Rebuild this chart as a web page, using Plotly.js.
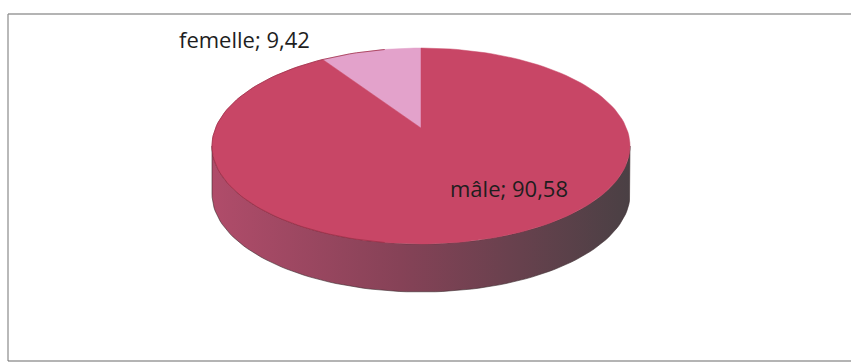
<!DOCTYPE html>
<html>
<head>
<meta charset="utf-8">
<script src="https://cdn.plot.ly/plotly-3.0.1.min.js"></script>
<style>html,body{margin:0;padding:0;background:#fff}#chart{width:851px;height:363px}</style>
</head>
<body>
<div id="chart"></div>
<script>
// ---- data ----
const labels = ['femelle', 'mâle'];
const values = [9.42, 90.58];
const topColors = ['#e3a2cb', '#c84666'];

// ---- geometry / style (pixels in a 851x363 frame) ----
const CX = 421, CY = 146, RX = 209, RY = 98, DEPTH = 48, APEX_DY = -18;
const STEPS = 180;
const sideScale = [[0, '#b04c6a'], [0.45, '#864257'], [1, '#4a4044']];

function pt(deg, dy) {
  const r = deg * Math.PI / 180;
  return [CX + RX * Math.cos(r), CY - RY * Math.sin(r) + (dy || 0)];
}
function arc(a0, a1, dy) {
  const n = Math.max(2, Math.ceil(Math.abs(a1 - a0) / 360 * STEPS));
  const xs = [], ys = [];
  for (let i = 0; i <= n; i++) {
    const p = pt(a0 + (a1 - a0) * i / n, dy);
    xs.push(p[0]); ys.push(p[1]);
  }
  return [xs, ys];
}
// perspective: slice boundaries are rays from an apex that sits behind the centre
function paramAngle(deg) {
  const py = -APEX_DY * RX / RY;
  const r = deg * Math.PI / 180, dx = Math.cos(r), dy = Math.sin(r);
  const pd = py * dy;
  const t = -pd + Math.sqrt(pd * pd + RX * RX - py * py);
  const x = t * dx, y = py + t * dy;
  let phi = Math.atan2(y, x) * 180 / Math.PI;
  phi += 360 * Math.round((deg - phi) / 360);
  return phi;
}

const total = values.reduce((a, b) => a + b, 0);
const traces = [];
let start = 90;
const slices = values.map((v, i) => {
  const a0 = start, a1 = start + v / total * 360;
  start = a1;
  return { i, a0: paramAngle(a0), a1: paramAngle(a1) };
});

// side faces (front half)
slices.forEach(s => {
  [[180, 360], [540, 720]].forEach(([f0, f1]) => {
    const lo = Math.max(s.a0, f0), hi = Math.min(s.a1, f1);
    if (hi <= lo) return;
    const [tx, ty] = arc(lo, hi, 0);
    const [bx, by] = arc(hi, lo, DEPTH);
    traces.push({
      type: 'scatter', mode: 'lines', x: tx.concat(bx, [tx[0]]), y: ty.concat(by, [ty[0]]),
      fill: 'toself', line: { width: 0.6, color: '#3a2a2e' },
      fillcolor: '#864257',
      fillgradient: { type: 'horizontal', colorscale: sideScale },
      hoverinfo: 'skip', showlegend: false
    });
  });
});

// top faces
slices.forEach(s => {
  const [ax, ay] = arc(s.a0, s.a1, 0);
  const apex = [CX, CY + APEX_DY];
  traces.push({
    type: 'scatter', mode: 'lines',
    x: [apex[0]].concat(ax, [apex[0]]), y: [apex[1]].concat(ay, [apex[1]]),
    fill: 'toself', fillcolor: topColors[s.i],
    line: { width: 0.5, color: topColors[s.i] },
    name: labels[s.i], hoverinfo: 'name', showlegend: false
  });
});

// thin outline of the top face
(function () {
  const [ox, oy] = arc(100, 260, 0);
  traces.push({ type: 'scatter', mode: 'lines', x: ox, y: oy,
    line: { width: 0.8, color: '#9e2f48' }, hoverinfo: 'skip', showlegend: false });
})();

const fmt = v => String(v).replace('.', ',');
const annPos = [[244, 39], [509, 188]];
const annotations = labels.map((l, i) => ({
  xref: 'x', yref: 'y', x: annPos[i][0], y: annPos[i][1],
  text: l + '; ' + fmt(values[i]), showarrow: false,
  font: { family: 'Open Sans, Noto Sans, sans-serif', size: 22, color: '#1e1e1e' }
}));

const layout = {
  width: 851, height: 363,
  margin: { l: 0, r: 0, t: 0, b: 0 },
  paper_bgcolor: '#ffffff', plot_bgcolor: '#ffffff',
  xaxis: { range: [0, 851], visible: false, fixedrange: true },
  yaxis: { range: [363, 0], visible: false, fixedrange: true },
  showlegend: false,
  annotations: annotations,
  shapes: [
    { type: 'line', xref: 'x', yref: 'y', x0: 8, x1: 851, y0: 14, y1: 14, line: { color: '#6a6a6a', width: 1.2 } },
    { type: 'line', xref: 'x', yref: 'y', x0: 8, x1: 8, y0: 14, y1: 361, line: { color: '#8a8a8a', width: 1.2 } },
    { type: 'line', xref: 'x', yref: 'y', x0: 8, x1: 851, y0: 361, y1: 361, line: { color: '#6a6a6a', width: 1.2 } }
  ]
};

Plotly.newPlot('chart', traces, layout, { staticPlot: true, displayModeBar: false });
</script>
</body>
</html>
